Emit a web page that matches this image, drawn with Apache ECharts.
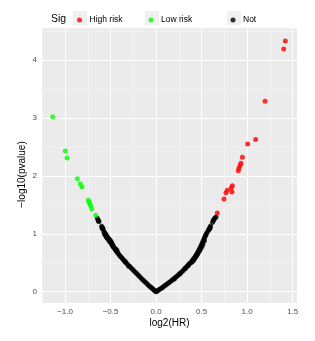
<!DOCTYPE html>
<html><head><meta charset="utf-8">
<script src="https://cdn.jsdelivr.net/npm/echarts@6/dist/echarts.min.js"></script>
<style>html,body{margin:0;padding:0;background:#fff}#c{width:315px;height:341px}</style>
</head><body><div id="c"></div>
<script>
// log2(HR), -log10(pvalue)
const highRisk = [
  [1.419,4.33],[1.401,4.19],[1.196,3.29],[1.093,2.63],[1.005,2.55],[0.947,2.32],
  [0.932,2.22],[0.921,2.18],[0.910,2.13],[0.903,2.09],[0.837,1.83],[0.826,1.79],
  [0.833,1.72],[0.782,1.75],[0.767,1.71],[0.746,1.60],[0.672,1.36]
];
const lowRisk = [
  [-1.135,3.02],[-0.997,2.43],[-0.978,2.31],[-0.865,1.95],[-0.832,1.86],[-0.814,1.81],
  [-0.744,1.58],[-0.736,1.55],[-0.729,1.52],[-0.718,1.48],[-0.707,1.43],[-0.663,1.32]
];
const notSig = [
  [0.000,0.000],[-0.010,0.012],[-0.022,0.030],[-0.035,0.045],[-0.048,0.063],[-0.060,0.080],
  [-0.075,0.100],[-0.090,0.122],[-0.105,0.145],[-0.120,0.168],[-0.135,0.190],[-0.150,0.212],
  [-0.166,0.236],[-0.182,0.262],[-0.198,0.288],[-0.213,0.315],[-0.228,0.338],[-0.244,0.362],
  [-0.260,0.388],[-0.276,0.412],[-0.292,0.438],[-0.308,0.462],[-0.322,0.487],[-0.336,0.510],
  [-0.350,0.534],[-0.362,0.556],[-0.375,0.580],[-0.388,0.603],[-0.400,0.626],[-0.412,0.650],
  [-0.423,0.672],[-0.433,0.694],[-0.443,0.716],[-0.452,0.738],[-0.460,0.760],[-0.468,0.782],
  [-0.476,0.805],[-0.484,0.828],[-0.490,0.848],[-0.497,0.868],[-0.504,0.884],[-0.512,0.900],
  [-0.522,0.918],[-0.534,0.940],[-0.542,0.958],[-0.548,0.975],[-0.556,0.995],[-0.562,1.012],
  [-0.580,1.080],[-0.590,1.108],[-0.598,1.132],[-0.628,1.212],[-0.636,1.236],[-0.645,1.268],
  [-0.470,0.770],[-0.478,0.795],[-0.486,0.815],[-0.496,0.840],[-0.506,0.862],[-0.516,0.882],
  [-0.528,0.905],[-0.540,0.930],[-0.546,0.950],[-0.554,0.968],[-0.566,0.992],[-0.573,1.030],
  [-0.592,1.090],[-0.632,1.222],[-0.430,0.712],[-0.440,0.735],[-0.300,0.440],[-0.340,0.520],
  [0.008,0.010],[0.020,0.022],[0.034,0.036],[0.048,0.050],[0.062,0.066],[0.076,0.082],
  [0.090,0.098],[0.105,0.115],[0.120,0.132],[0.135,0.150],[0.150,0.168],[0.165,0.186],
  [0.180,0.205],[0.195,0.224],[0.210,0.244],[0.225,0.264],[0.240,0.285],[0.255,0.306],
  [0.270,0.328],[0.285,0.350],[0.300,0.372],[0.314,0.395],[0.328,0.418],[0.342,0.442],
  [0.356,0.466],[0.368,0.488],[0.380,0.500],[0.392,0.524],[0.404,0.550],[0.416,0.576],
  [0.428,0.603],[0.440,0.632],[0.450,0.660],[0.460,0.690],[0.470,0.720],[0.480,0.752],
  [0.490,0.784],[0.500,0.816],[0.509,0.848],[0.518,0.880],[0.526,0.910],[0.534,0.940],
  [0.541,0.966],[0.548,0.990],[0.556,1.015],[0.570,1.050],[0.578,1.075],[0.590,1.110],
  [0.598,1.135],[0.620,1.200],[0.628,1.228],[0.636,1.252],[0.646,1.272],[0.658,1.292],
  [0.395,0.512],[0.410,0.540],[0.422,0.568],[0.435,0.598],[0.446,0.625],[0.458,0.655],
  [0.470,0.690],[0.482,0.722],[0.495,0.760],[0.505,0.790],[0.515,0.822],[0.530,0.880],
  [0.584,1.085],[0.592,1.095],[0.350,0.450],[0.320,0.400],[0.260,0.306],[0.200,0.220]
];
const xTicks = [-1.0,-0.5,0.0,0.5,1.0,1.5];
const xMinor = [-1.25,-0.75,-0.25,0.25,0.75,1.25];
const yTicks = [0,1,2,3,4];
const yMinor = [0.5,1.5,2.5,3.5,4.5];

const FONT = '"Liberation Sans", Arial, sans-serif';
const chart = echarts.init(document.getElementById('c'), null, {renderer:'canvas'});

const gridLines = [];
xMinor.forEach(v=>gridLines.push({xAxis:v, lineStyle:{color:'#f5f5f5', width:0.6, type:'solid'}}));
yMinor.forEach(v=>gridLines.push({yAxis:v, lineStyle:{color:'#f5f5f5', width:0.6, type:'solid'}}));
xTicks.forEach(v=>gridLines.push({xAxis:v, lineStyle:{color:'#ffffff', width:1.1, type:'solid'}}));
yTicks.forEach(v=>gridLines.push({yAxis:v, lineStyle:{color:'#ffffff', width:1.1, type:'solid'}}));

const fmt = v => (v<0?'\u2212':'') + Math.abs(v).toFixed(1);

chart.setOption({
  animation:false,
  title:{text:'Sig', left:46, top:9, textStyle:{fontFamily:FONT, fontSize:10.5, fontWeight:'normal', color:'#000'}},
  graphic:[
    {type:'rect', shape:{x:73,y:11,width:14,height:14}, style:{fill:'#f0f0f0'}, z:0},
    {type:'rect', shape:{x:145,y:11,width:14,height:14}, style:{fill:'#f0f0f0'}, z:0},
    {type:'rect', shape:{x:227,y:11,width:14,height:14}, style:{fill:'#f0f0f0'}, z:0}
  ],
  legend:[
    {data:['High risk'], left:77, top:15.5, icon:'circle', itemWidth:8, itemHeight:5, padding:0, itemGap:0,
     textStyle:{fontFamily:FONT, fontSize:8.5, color:'#000', padding:[0,0,0,1]}},
    {data:['Low risk'], left:148.5, top:15.5, icon:'circle', itemWidth:8, itemHeight:5, padding:0,
     textStyle:{fontFamily:FONT, fontSize:8.5, color:'#000', padding:[0,0,0,1]}},
    {data:['Not'], left:230.5, top:15.5, icon:'circle', itemWidth:8, itemHeight:5, padding:0,
     textStyle:{fontFamily:FONT, fontSize:8.5, color:'#000', padding:[0,0,0,1]}}
  ],
  grid:{left:42, right:18, top:28, bottom:38, show:true, backgroundColor:'#ebebeb', borderWidth:0},
  xAxis:{type:'value', min:-1.253, max:1.547, name:'log2(HR)', nameLocation:'middle', nameGap:15,
    nameMoveOverlap:false,
    nameTextStyle:{fontFamily:FONT, fontSize:10, color:'#000'},
    axisLine:{show:false}, splitLine:{show:false},
    axisTick:{show:true, customValues:xTicks, length:3, lineStyle:{color:'#333', width:0.8}},
    axisLabel:{customValues:xTicks, formatter:fmt, fontFamily:FONT, fontSize:8, color:'#4d4d4d', margin:5}},
  yAxis:{type:'value', min:-0.195, max:4.554, name:'\u2212log10(pvalue)', nameLocation:'middle', nameGap:15,
    nameMoveOverlap:false,
    nameTextStyle:{fontFamily:FONT, fontSize:10, color:'#000', padding:[0,18,0,0]},
    axisLine:{show:false}, splitLine:{show:false},
    axisTick:{show:true, customValues:yTicks, length:3, lineStyle:{color:'#333', width:0.8}},
    axisLabel:{customValues:yTicks, formatter:v=>String(v), fontFamily:FONT, fontSize:8, color:'#4d4d4d', margin:5}},
  series:[
    {name:'Not', type:'scatter', data:notSig, symbolSize:5, itemStyle:{color:'#000'}, z:3,
     markLine:{silent:true, symbol:'none', label:{show:false}, z:1, animation:false, data:gridLines}},
    {name:'High risk', type:'scatter', data:highRisk, symbolSize:5, itemStyle:{color:'#ff0000'}, z:3},
    {name:'Low risk', type:'scatter', data:lowRisk, symbolSize:5, itemStyle:{color:'#00ff00'}, z:3}
  ]
});
</script></body></html>
